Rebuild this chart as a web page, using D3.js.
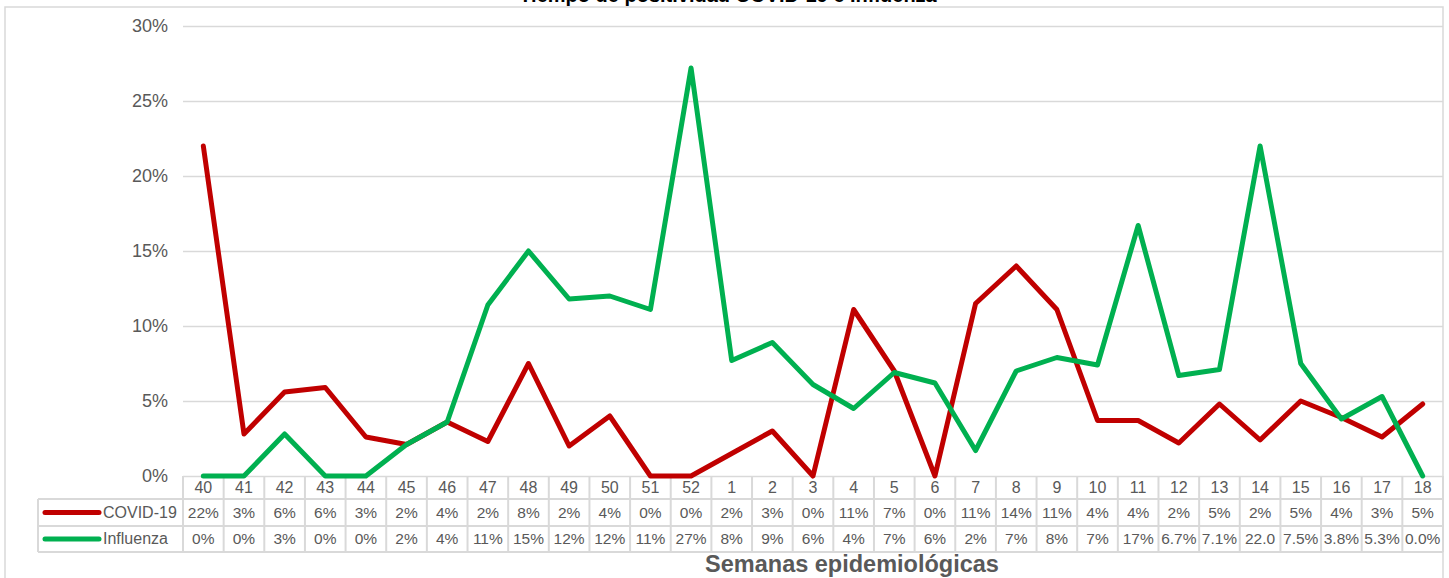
<!DOCTYPE html>
<html><head><meta charset="utf-8">
<script src="https://cdn.jsdelivr.net/npm/d3@7/dist/d3.min.js"></script>
<style>body{margin:0;background:#fff;}svg{display:block;font-family:"Liberation Sans",Arial,sans-serif;}</style>
</head><body>
<svg id="c" width="1449" height="578"></svg>
<script>
const weeks = ["40","41","42","43","44","45","46","47","48","49","50","51","52","1","2","3","4","5","6","7","8","9","10","11","12","13","14","15","16","17","18"];
const covid = [22.0,2.8,5.6,5.9,2.6,2.1,3.6,2.3,7.5,2.0,4.0,0,0,1.5,3.0,0,11.1,7.0,0,11.5,14.0,11.1,3.7,3.7,2.2,4.8,2.4,5.0,3.9,2.6,4.8];
const influenza = [0,0,2.8,0,0,2.1,3.6,11.4,15.0,11.8,12.0,11.1,27.2,7.7,8.9,6.1,4.5,6.9,6.2,1.7,7.0,7.9,7.4,16.7,6.7,7.1,22.0,7.5,3.8,5.3,0];
const covidLabels = ["22%","3%","6%","6%","3%","2%","4%","2%","8%","2%","4%","0%","0%","2%","3%","0%","11%","7%","0%","11%","14%","11%","4%","4%","2%","5%","2%","5%","4%","3%","5%"];
const fluLabels = ["0%","0%","3%","0%","0%","2%","4%","11%","15%","12%","12%","11%","27%","8%","9%","6%","4%","7%","6%","2%","7%","8%","7%","17%","6.7%","7.1%","22.0","7.5%","3.8%","5.3%","0.0%"];
const yTicks = [0,5,10,15,20,25,30];
const seriesNames = ["COVID-19","Influenza"];
const colors = ["#C00000","#00B050"];

(function(){
const svg = d3.select("#c");
const pLeft = 183, pRight = 1443, pTop = 26, pBottom = 476;
const x = d3.scaleBand().domain(weeks).range([pLeft,pRight]).padding(0);
const y = d3.scaleLinear().domain([0,30]).range([pBottom,pTop]);
const grid = "#D9D9D9", txt = "#595959";

svg.append("rect").attr("x",5).attr("y",7).attr("width",1438).attr("height",600)
  .attr("fill","none").attr("stroke",grid).attr("stroke-width",1.5);
// title (clipped at the top edge, as in the reference)
svg.append("text").attr("x",728).attr("y",2).attr("text-anchor","middle")
  .attr("font-size",20).attr("font-weight","bold").attr("fill","#000")
  .text("Tiempo de positividad COVID-19 e Influenza");

const yAxis = d3.axisLeft(y).tickValues(yTicks).tickFormat(d=>d+"%").tickSize(-(pRight-pLeft)).tickPadding(15);
const ga = svg.append("g").attr("transform",`translate(${pLeft},0)`).call(yAxis);
ga.select(".domain").remove();
ga.selectAll(".tick line").attr("stroke",grid).attr("stroke-width",1.5);
ga.selectAll(".tick text").attr("fill",txt).attr("font-size",18).attr("font-family","Liberation Sans, Arial, sans-serif");

const rowH = [[476,499],[499,526],[526,552]];
const tg = svg.append("g");
const bw = x.bandwidth();
const hl = (x1,x2,yy)=>tg.append("line").attr("x1",x1).attr("x2",x2).attr("y1",yy).attr("y2",yy).attr("stroke",grid).attr("stroke-width",2);
hl(38,pRight,499); hl(38,pRight,526); hl(38,pRight,552);
weeks.forEach((w)=>{
  tg.append("line").attr("x1",x(w)).attr("x2",x(w)).attr("y1",476).attr("y2",552).attr("stroke",grid).attr("stroke-width",2);
});
tg.append("line").attr("x1",pRight).attr("x2",pRight).attr("y1",476).attr("y2",552).attr("stroke",grid).attr("stroke-width",2);
tg.append("line").attr("x1",38).attr("x2",38).attr("y1",499).attr("y2",552).attr("stroke",grid).attr("stroke-width",2);

tg.selectAll("text.wk").data(weeks).join("text").attr("class","wk")
  .attr("x",d=>x(d)+bw/2).attr("y",493).attr("text-anchor","middle")
  .attr("font-size",16).attr("fill",txt).text(d=>d);
[covidLabels,fluLabels].forEach((labs,r)=>{
  tg.selectAll("text.r"+r).data(labs).join("text").attr("class","r"+r)
    .attr("x",(d,i)=>x(weeks[i])+bw/2).attr("y",rowH[r+1][1]-8).attr("text-anchor","middle")
    .attr("font-size",15.5).attr("fill",txt).text(d=>d);
  const my = (rowH[r+1][0]+rowH[r+1][1])/2;
  tg.append("line").attr("x1",45).attr("x2",99).attr("y1",my).attr("y2",my)
    .attr("stroke",colors[r]).attr("stroke-width",5).attr("stroke-linecap","round");
  tg.append("text").attr("x",103).attr("y",rowH[r+1][1]-8).attr("font-size",16).attr("fill",txt).text(seriesNames[r]);
});

svg.append("text").attr("x",852).attr("y",572).attr("text-anchor","middle")
  .attr("font-size",23.5).attr("font-weight","bold").attr("fill",txt).text("Semanas epidemiológicas");

const line = d3.line().x((d,i)=>x(weeks[i])+bw/2).y(d=>y(d));
[covid,influenza].forEach((s,k)=>{
  svg.append("path").datum(s).attr("d",line).attr("fill","none")
    .attr("stroke",colors[k]).attr("stroke-width",5).attr("stroke-linejoin","round").attr("stroke-linecap","round");
});
})();
</script>
</body></html>
